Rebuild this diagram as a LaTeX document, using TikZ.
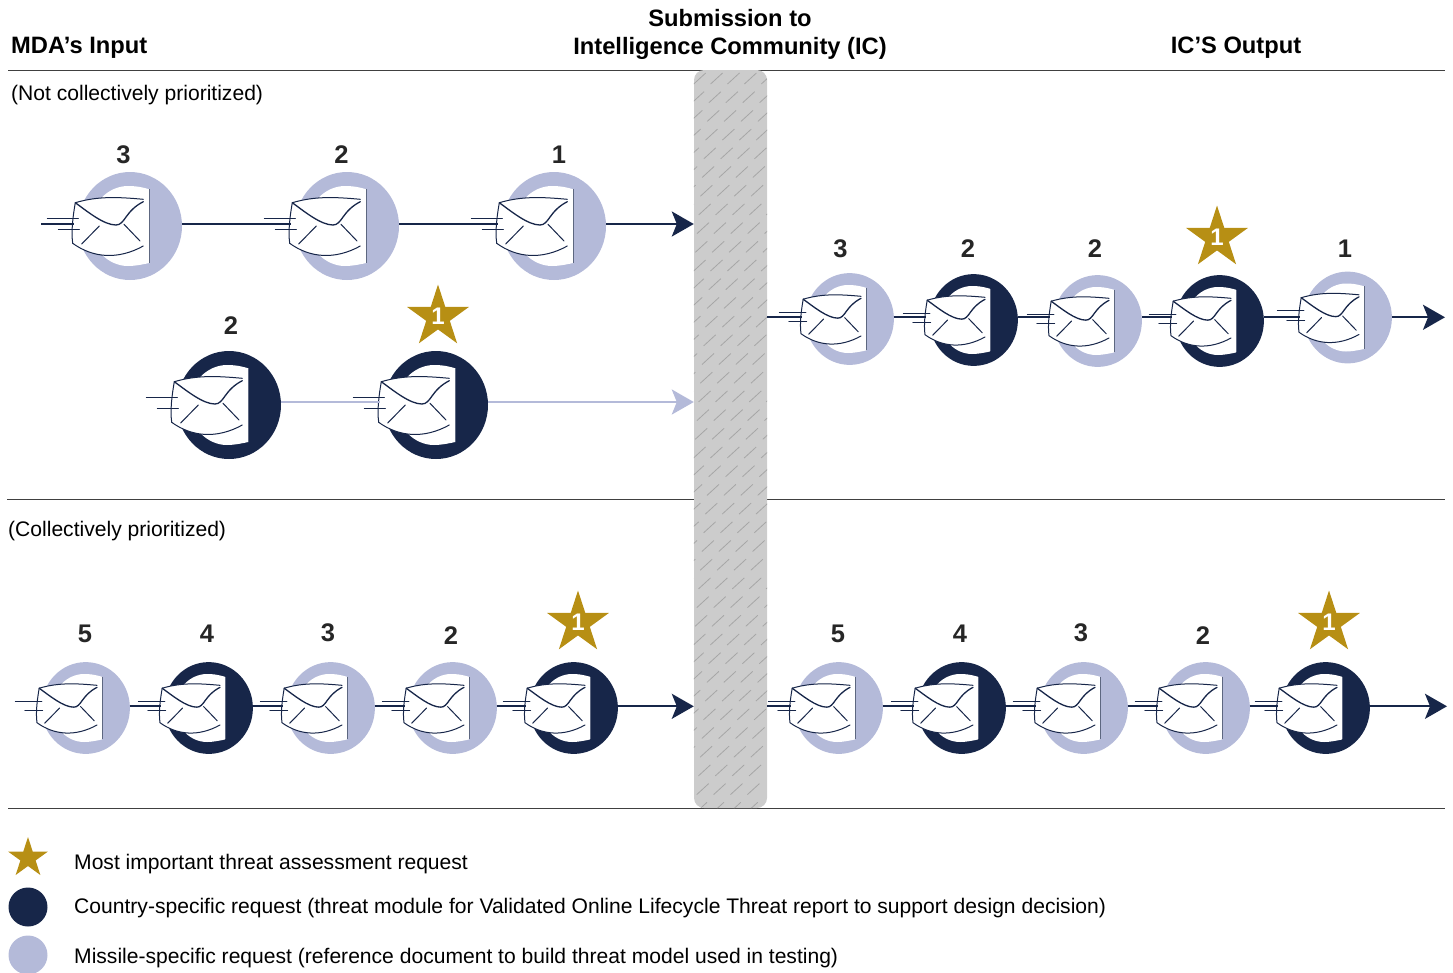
\documentclass[tikz,border=0pt]{standalone}
\usepackage{fontspec}
\setmainfont{Liberation Sans}
\usetikzlibrary{arrows.meta,shapes.geometric}
\definecolor{navy}{HTML}{172649}
\definecolor{lav}{HTML}{B4BAD9}
\definecolor{gold}{HTML}{B78F14}
\definecolor{wallc}{HTML}{CCCCCC}
\definecolor{hatchc}{HTML}{A6A6A6}
\definecolor{rule}{HTML}{404040}
\tikzset{
  conn/.style={draw=navy,line width=2.3pt},
  connl/.style={draw=lav,line width=2.3pt},
  arrowd/.style={-{Stealth[length=22pt,width=25pt,inset=5pt]}},
  rulel/.style={draw=rule,line width=1pt},
  txt/.style={anchor=base west,inner sep=0pt,font=\fontsize{21.08}{25}\selectfont},
  head/.style={anchor=base,inner sep=0pt,font=\fontsize{23.7}{29}\selectfont\bfseries,align=center},
  num/.style={inner sep=0pt,font=\fontsize{25.5}{25}\selectfont\bfseries,text=black!85},
  starn/.style={star,star points=5,star point ratio=2.618,fill=gold,draw=none,inner sep=0pt,minimum size=65pt,text=white,font=\fontsize{24}{24}\selectfont\bfseries},
  envl/.style={draw=navy,line width=1pt,line cap=round},
}
\newcommand{\starone}{\raisebox{-7.5pt}[0pt][0pt]{1}}
% name, x, y, colour, scale, y of the connector line
\newcommand{\envicon}[6]{%
  \coordinate (#1-in) at (#2-54*#5,#6);
  \coordinate (#1-out) at (#2+54*#5,#6);
  \begin{scope}[shift={(#2,#3)},scale=#5]
    \node[ellipse,fill=#4,draw=none,inner sep=0pt,minimum width=#5*104pt,minimum height=#5*108pt] (#1) at (2,0) {};
    \path[fill=white] (21.3,-36.7) .. controls (12,-39.5) and (6,-40) .. (0,-40)
      .. controls (-20,-40) and (-38,-22) .. (-38,0)
      .. controls (-38,22) and (-20,40) .. (0,40)
      .. controls (6,40) and (12,39) .. (21.3,37) -- cycle;
    \draw[draw=navy!70,line width=0.6pt] (21.3,-36.7) -- (21.3,37);
    \path[fill=white] (-52.7,-23.3) .. controls (-30,-30) and (-10,-29) .. (15.3,-26.7)
      -- (15.3,20) .. controls (-10,34) and (-35,32) .. (-55.3,17.3)
      .. controls (-57,5) and (-55,-10) .. cycle;
    \draw[envl] (-52.7,-23.3) .. controls (-30,-30) and (-10,-29) .. (15.3,-26.7);
    \draw[envl] (15.3,20) .. controls (-10,34) and (-35,32) .. (-55.3,17.3)
      .. controls (-57,5) and (-55,-10) .. (-52.7,-23.3);
    \draw[envl,line width=1.3pt] (-52.7,-23.3) .. controls (-40,-14) and (-24,-1) .. (-12,-1)
      .. controls (-3,-1) and (-3,-15) .. (15.3,-24.3);
    \draw[envl] (-28.7,0) -- (-46.3,18);
    \draw[envl] (-4,-1.7) -- (12,15);
    \draw[envl] (-80.7,-8) -- (-49.7,-8);
    \draw[envl] (-69.7,3) -- (-48.7,3);
  \end{scope}%
}
\begin{document}
\begin{tikzpicture}[x=1pt,y=-1pt]
\useasboundingbox (0,0) rectangle (1453,972);
% rules
\coordinate (r1a) at (8,70.5); \coordinate (r1b) at (1445,70.5);
\coordinate (r2a) at (7,499); \coordinate (r2b) at (1445,499);
\coordinate (r3a) at (8,808); \coordinate (r3b) at (1445,808);
\draw[rulel] (r1a) -- (r1b);
\draw[rulel] (r2a) -- (r2b);
\draw[rulel] (r3a) -- (r3b);
% wall
\node[fill=wallc,draw=none,rounded corners=10pt,inner sep=0pt,minimum width=73pt,minimum height=738pt] (wall) at (730.5,439) {};
\begin{scope}
  \clip[rounded corners=10pt] (wall.south west) rectangle (wall.north east);
  \foreach \i in {0,...,39}{
    \foreach \j in {-2,...,7}{
      \pgfmathsetmacro{\xx}{705.7+16.9*\j-1.7*\i}
      \pgfmathsetmacro{\yy}{73+18.7*\i}
      \draw[draw=hatchc,line width=0.8pt] (\xx,\yy) -- ++(-12,11);
    }
  }
\end{scope}
% headers
\node[head,anchor=base west] (h1) at (11,53) {MDA’s Input};
\node[head] (h2a) at (730,26) {Submission to};
\node[head] (h2b) at (730,54.5) {Intelligence Community (IC)};
\node[head] (h3) at (1236,53) {IC’S Output};
\node[txt] (t1) at (11,100) {(Not collectively prioritized)};
\node[txt] (t2) at (8,536.5) {(Collectively prioritized)};
% row 1
\envicon{a1}{128}{226}{lav}{1}{224}
\envicon{a2}{345}{226}{lav}{1}{224}
\envicon{a3}{552}{226}{lav}{1}{224}
\coordinate (a0) at (41,224);
\draw[conn] (a0) -- (a1-in);
\draw[conn] (a1-out) -- (a2-in);
\draw[conn] (a2-out) -- (a3-in);
\draw[conn,arrowd] (a3-out) -- (a3-out -| wall.west);
\node[num] (na1) at (123.5,155) {3};
\node[num] (na2) at (341.5,155) {2};
\node[num] (na3) at (559,155) {1};
% row 2
\envicon{b1}{227}{405}{navy}{1}{402}
\envicon{b2}{434}{405}{navy}{1}{402}
\draw[connl] (b1-out) -- (b2-in);
\draw[connl,arrowd] (b2-out) -- (b2-out -| wall.west);
\node[num] (nb1) at (231,326) {2};
\node[starn] (sb) at (438,317) {\starone};
% right row
\envicon{c1}{848}{319}{lav}{0.85}{317.3}
\envicon{c2}{972}{320}{navy}{0.85}{317.3}
\envicon{c3}{1096}{321}{lav}{0.85}{317.3}
\envicon{c4}{1218}{321}{navy}{0.85}{317.3}
\envicon{c5}{1346}{317.5}{lav}{0.85}{317.3}
\coordinate (endc) at (1445,317.3);
\draw[conn] (wall.east |- c1-in) -- (c1-in);
\draw[conn] (c1-out) -- (c2-in);
\draw[conn] (c2-out) -- (c3-in);
\draw[conn] (c3-out) -- (c4-in);
\draw[conn] (c4-out) -- (c5-in);
\draw[conn,arrowd] (c5-out) -- (endc);
\node[num] (nc1) at (840.5,249) {3};
\node[num] (nc2) at (968,249) {2};
\node[num] (nc3) at (1095,249) {2};
\node[starn] (sc) at (1217,238) {\starone};
\node[num] (nc5) at (1345,249) {1};
% bottom left
\envicon{d1}{84}{708}{lav}{0.85}{706.3}
\envicon{d2}{207}{708}{navy}{0.85}{706.3}
\envicon{d3}{329}{708}{lav}{0.85}{706.3}
\envicon{d4}{451}{708}{lav}{0.85}{706.3}
\envicon{d5}{572}{708}{navy}{0.85}{706.3}
\draw[conn] (d1-out) -- (d2-in);
\draw[conn] (d2-out) -- (d3-in);
\draw[conn] (d3-out) -- (d4-in);
\draw[conn] (d4-out) -- (d5-in);
\draw[conn,arrowd] (d5-out) -- (d5-out -| wall.west);
\node[num] (nd1) at (85,634) {5};
\node[num] (nd2) at (207,634) {4};
\node[num] (nd3) at (328,633) {3};
\node[num] (nd4) at (451,636) {2};
\node[starn] (sd) at (578,623) {\starone};
% bottom right
\envicon{e1}{837}{708}{lav}{0.85}{706.3}
\envicon{e2}{960}{708}{navy}{0.85}{706.3}
\envicon{e3}{1082}{708}{lav}{0.85}{706.3}
\envicon{e4}{1204}{708}{lav}{0.85}{706.3}
\envicon{e5}{1324}{708}{navy}{0.85}{706.3}
\coordinate (ende) at (1447,706.3);
\draw[conn] (wall.east |- e1-in) -- (e1-in);
\draw[conn] (e1-out) -- (e2-in);
\draw[conn] (e2-out) -- (e3-in);
\draw[conn] (e3-out) -- (e4-in);
\draw[conn] (e4-out) -- (e5-in);
\draw[conn,arrowd] (e5-out) -- (ende);
\node[num] (ne1) at (838,634) {5};
\node[num] (ne2) at (960,634) {4};
\node[num] (ne3) at (1081,633) {3};
\node[num] (ne4) at (1203,636) {2};
\node[starn] (se) at (1329,623) {\starone};
% legend
\node[star,star points=5,star point ratio=2.618,fill=gold,inner sep=0pt,minimum size=42pt] (ls) at (28,858) {};
\node[circle,fill=navy,inner sep=0pt,minimum size=39pt] (lc1) at (28,907) {};
\node[circle,fill=lav,inner sep=0pt,minimum size=39pt] (lc2) at (28,955) {};
\node[txt] (l1) at (74,869) {Most important threat assessment request};
\node[txt] (l2) at (74,913) {Country-specific request (threat module for Validated Online Lifecycle Threat report to support design decision)};
\node[txt] (l3) at (74,963) {Missile-specific request (reference document to build threat model used in testing)};
\end{tikzpicture}
\end{document}
